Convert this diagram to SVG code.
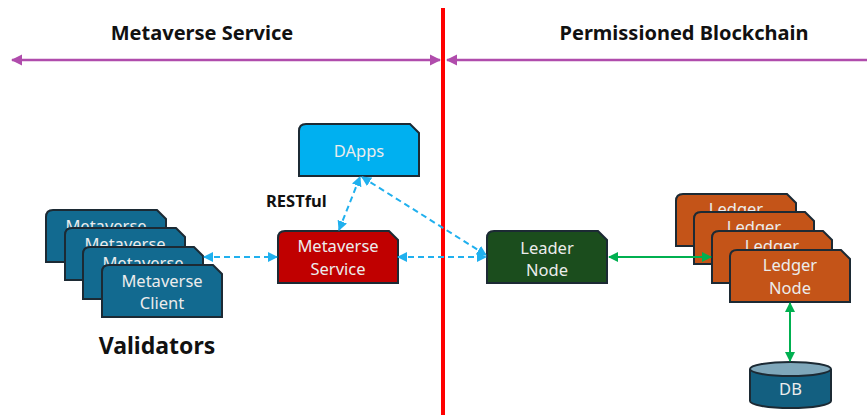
<svg xmlns="http://www.w3.org/2000/svg" width="867" height="415" viewBox="0 0 867 415">
  <style>
    .title { font-family: "Noto Sans", "Liberation Sans", sans-serif; font-weight: bold; font-size: 20px; fill: #111; }
    .lbl { font-family: "Noto Sans", "Liberation Sans", sans-serif; font-size: 16.5px; fill: #ececec; text-anchor: middle; }
    .box { stroke: #1c2a34; stroke-width: 2; }
    .client { fill: #126a90; }
    .ledger { fill: #c45418; }
    .dash { fill: none; stroke: #20b0ee; stroke-width: 2; stroke-dasharray: 6 4; }
    .green { fill: none; stroke: #00b050; stroke-width: 2; }
    .purple { fill: none; stroke: #b04cac; stroke-width: 2.5; }
  </style>
  <defs>
    <!-- node outline: rounded top-left, snipped top-right -->
    <path id="node" d="M0,52 V7 Q0,0 7,0 H111 L120,9 V52 Z"/>
    <!-- visible strips of the stacked back cards -->
    <clipPath id="cm1"><rect x="46" y="210" width="120" height="18"/></clipPath>
    <clipPath id="cm2"><rect x="65" y="228" width="120" height="19"/></clipPath>
    <clipPath id="cm3"><rect x="83" y="247" width="120" height="18"/></clipPath>
    <clipPath id="cl1"><rect x="676" y="194" width="120" height="18"/></clipPath>
    <clipPath id="cl2"><rect x="694" y="212" width="120" height="19"/></clipPath>
    <clipPath id="cl3"><rect x="712" y="231" width="120" height="19"/></clipPath>
    <marker id="ab" viewBox="0 0 10 10" refX="9" refY="5" markerWidth="5" markerHeight="5" orient="auto-start-reverse" markerUnits="strokeWidth">
      <path d="M0,0 L10,5 L0,10 Z" fill="#20b0ee"/>
    </marker>
    <marker id="ag" viewBox="0 0 10 10" refX="9" refY="5" markerWidth="5" markerHeight="5" orient="auto-start-reverse" markerUnits="strokeWidth">
      <path d="M0,0 L10,5 L0,10 Z" fill="#00b050"/>
    </marker>
    <marker id="ap" viewBox="0 0 10 10" refX="9" refY="5" markerWidth="4.5" markerHeight="4.5" orient="auto-start-reverse" markerUnits="strokeWidth">
      <path d="M0,0 L10,5 L0,10 Z" fill="#b04cac"/>
    </marker>
  </defs>

  <rect width="867" height="415" fill="#ffffff"/>

  <!-- section headings -->
  <text class="title" x="202" y="40" text-anchor="middle">Metaverse Service</text>
  <text class="title" x="684" y="40" text-anchor="middle">Permissioned Blockchain</text>

  <!-- boundary line -->
  <line x1="443" y1="8" x2="443" y2="415" stroke="#ff0000" stroke-width="4"/>

  <g id="clients">
    <use href="#node" x="46" y="210" class="box client"/>
    <text class="lbl" x="106" y="232" clip-path="url(#cm1)">Metaverse</text>
    <use href="#node" x="65" y="228" class="box client"/>
    <text class="lbl" x="125" y="250" clip-path="url(#cm2)">Metaverse</text>
    <use href="#node" x="83" y="247" class="box client"/>
    <text class="lbl" x="143" y="269" clip-path="url(#cm3)">Metaverse</text>
    <use href="#node" x="102" y="265" class="box client"/>
    <text class="lbl" x="162" y="287">Metaverse</text>
    <text class="lbl" x="162" y="309">Client</text>
  </g>

  <text id="validators" x="157" y="354" text-anchor="middle" font-family="Noto Sans, Liberation Sans, sans-serif" font-weight="bold" font-size="23" fill="#111">Validators</text>

  <g id="dapps">
    <use href="#node" x="299" y="124" class="box" fill="#00b0f0"/>
    <text class="lbl" x="359" y="157">DApps</text>
  </g>

  <text id="restful" x="266" y="207" font-family="Noto Sans, Liberation Sans, sans-serif" font-weight="bold" font-size="16.5" fill="#111">RESTful</text>

  <g id="metaverse-service">
    <use href="#node" x="278" y="231" class="box" fill="#c00000"/>
    <text class="lbl" x="338" y="252">Metaverse</text>
    <text class="lbl" x="338" y="275">Service</text>
  </g>

  <g id="leader-node">
    <use href="#node" x="487" y="231" class="box" fill="#1b4d1d"/>
    <text class="lbl" x="547" y="254">Leader</text>
    <text class="lbl" x="547" y="276">Node</text>
  </g>

  <g id="ledgers">
    <use href="#node" x="676" y="194" class="box ledger"/>
    <text class="lbl" x="736" y="215" clip-path="url(#cl1)">Ledger</text>
    <use href="#node" x="694" y="212" class="box ledger"/>
    <text class="lbl" x="754" y="233" clip-path="url(#cl2)">Ledger</text>
    <use href="#node" x="712" y="231" class="box ledger"/>
    <text class="lbl" x="772" y="252" clip-path="url(#cl3)">Ledger</text>
    <use href="#node" x="730" y="250" class="box ledger"/>
    <text class="lbl" x="790" y="271">Ledger</text>
    <text class="lbl" x="790" y="294">Node</text>
  </g>

  <g id="db">
    <path d="M750,369 V401 A40.5,7 0 0 0 831,401 V369" fill="#135f80" stroke="#1c2a34" stroke-width="2"/>
    <ellipse cx="790.5" cy="369" rx="40.5" ry="7" fill="#7fa7ba" stroke="#1c2a34" stroke-width="2"/>
    <text class="lbl" x="790.5" y="395">DB</text>
  </g>

  <g id="connectors">
    <line class="purple" x1="12" y1="60" x2="440" y2="60" marker-start="url(#ap)" marker-end="url(#ap)"/>
    <line class="purple" x1="447" y1="60" x2="870" y2="60" marker-start="url(#ap)"/>
    <line class="dash" x1="204" y1="257" x2="277" y2="257" marker-start="url(#ab)" marker-end="url(#ab)"/>
    <line class="dash" x1="398" y1="257" x2="486" y2="257" marker-start="url(#ab)" marker-end="url(#ab)"/>
    <line class="dash" x1="339" y1="230" x2="360" y2="177" marker-start="url(#ab)" marker-end="url(#ab)"/>
    <line class="dash" x1="362" y1="177" x2="486" y2="255" marker-start="url(#ab)" marker-end="url(#ab)"/>
    <line class="green" x1="609" y1="257" x2="711" y2="257" marker-start="url(#ag)" marker-end="url(#ag)"/>
    <line class="green" x1="790" y1="303" x2="790" y2="361" marker-start="url(#ag)" marker-end="url(#ag)"/>
  </g>
</svg>
